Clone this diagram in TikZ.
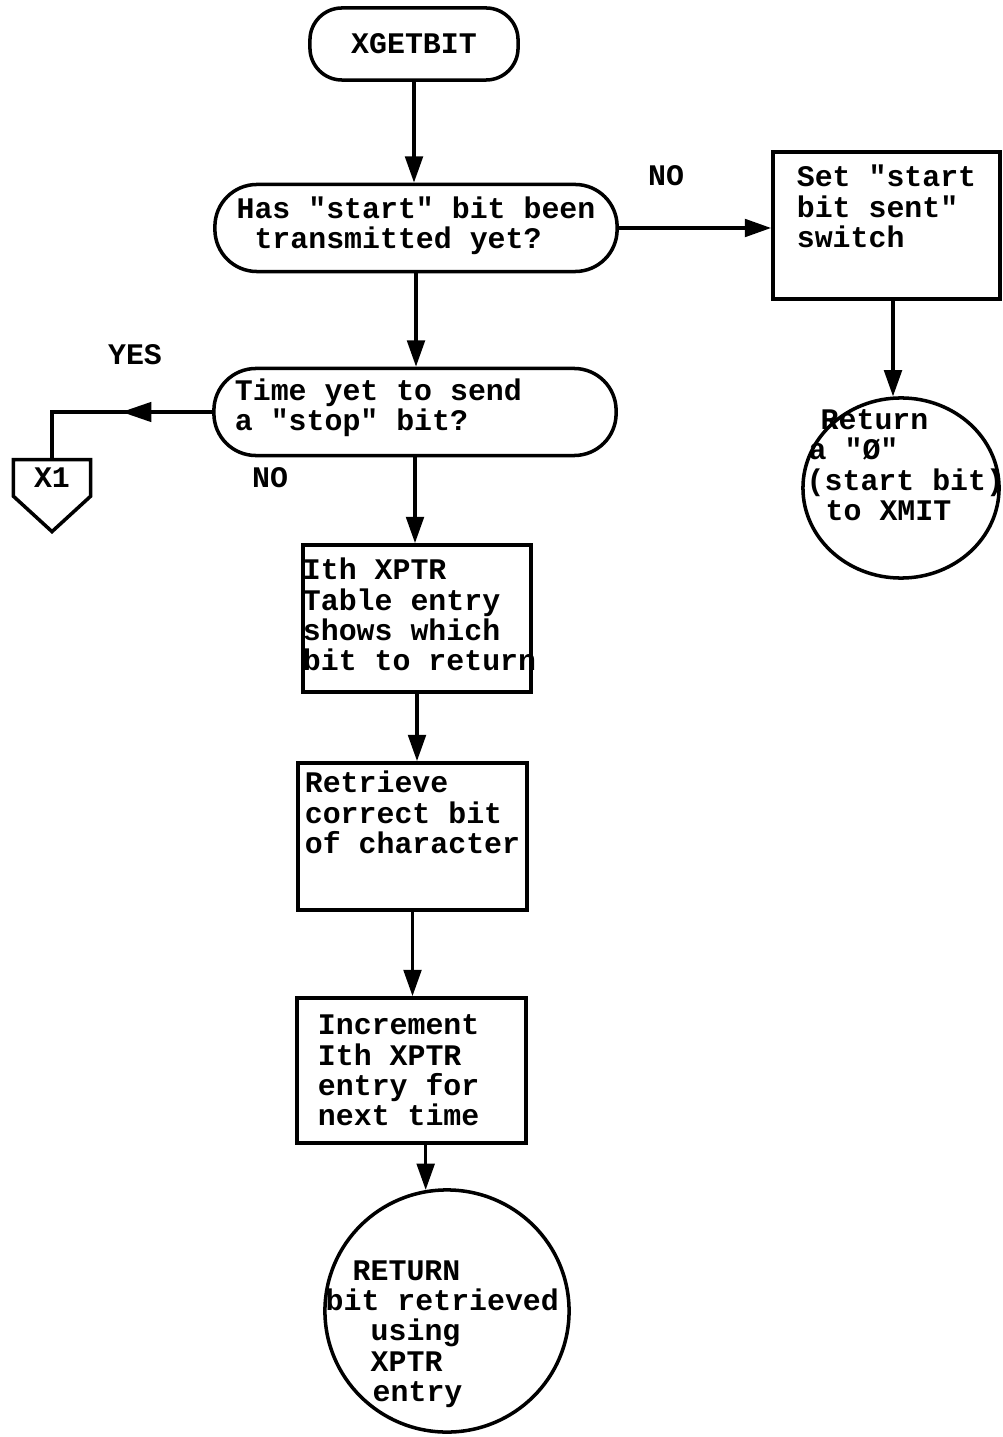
\documentclass[tikz,border=0pt]{standalone}
\usepackage{fontspec}
\setmonofont{Liberation Mono}
\usetikzlibrary{arrows.meta,shapes.geometric,shapes.symbols,decorations.markings}

\begin{document}
\begin{tikzpicture}[
    x=0.01cm, y=-0.01cm,
    every node/.style={font=\fontsize{8.5}{8.6}\selectfont\ttfamily\bfseries, inner sep=0pt},
    line/.style   ={line width=1pt},
    flow/.style   ={line, -{Triangle[length=7.5pt,width=5pt]}},
    term/.style   ={draw, line width=1pt, rounded corners=0.32cm, minimum width=2.08cm, minimum height=0.72cm},
    test/.style   ={draw, line width=1pt, rounded corners=0.42cm, minimum width=4.02cm, minimum height=0.87cm, align=left},
    proc/.style   ={draw, line width=1pt, minimum width=2.28cm, minimum height=1.46cm, align=left},
    exitc/.style  ={draw, line width=1pt, ellipse},
    offpage/.style={draw, line width=1pt, signal, signal to=south, signal from=nowhere, signal pointer angle=95, minimum width=0.77cm, minimum height=0.53cm},
    midarrow/.style={postaction={decorate}, decoration={markings, mark=at position 0.44 with {\arrow{Triangle[length=8.5pt,width=5.5pt]}}}},
  ]
  \useasboundingbox (0,0) rectangle (1002,1437);

  % entry and first test
  \node[term] (getbit) at (414,44) {XGETBIT};
  \node[test] (hasstart) at (416,228) {Has "start" bit been\\\hspace*{0.6em}transmitted yet?\\[-0.2cm]\mbox{}};
  \node (nostart) at (666,176) {NO};

  % start bit branch (right)
  \node[proc, minimum width=2.27cm, minimum height=1.47cm] (setsw) at (886.5,225.5) {Set "start\\bit sent"\\switch\\[0.08cm]\mbox{}};
  \node[exitc, minimum width=1.96cm, minimum height=1.80cm] (retzero) at (901,488) {};
  \node[anchor=north west, align=left] (retzero-txt) at (804,409)
    {\hspace*{0.16cm}Return\\\hspace*{0.04cm}a "Ø"\\\hspace*{0.02cm}(start bit)\\\hspace*{0.21cm}to XMIT};

  % stop bit test
  \node[test] (timestop) at (415,412) {\makebox[3.6cm][l]{Time yet to send}\\a "stop" bit?\\[-0.16cm]\mbox{}};
  \node (yesstop) at (135,355) {YES};
  \node (nostop) at (270,478) {NO};
  \node[offpage] (xone) at (52,478) {X1};

  % main column
  \node[proc, minimum width=2.28cm, minimum height=1.47cm] (ithentry) at (417,618.5)
    {Ith XPTR\\Table entry\\shows which\\\makebox[2.28cm][l]{bit to return}\\[-0.22cm]\mbox{}};
  \node[proc, minimum width=2.29cm, minimum height=1.47cm] (retrieve) at (412.5,836.5)
    {Retrieve\\correct bit\\of character\\[0.18cm]\mbox{}};
  \node[proc, minimum width=2.29cm, minimum height=1.45cm] (incr) at (411.5,1070.5)
    {\makebox[1.87cm][l]{Increment}\\Ith XPTR\\entry for\\next time};
  \node[exitc, minimum width=2.44cm, minimum height=2.42cm] (retbit) at (447,1311) {};
  \node[anchor=north west, align=left] (retbit-txt) at (325,1260)
    {\hspace*{0.27cm}RETURN\\bit retrieved\\\hspace*{0.45cm}using\\\hspace*{0.45cm}XPTR\\\hspace*{0.47cm}entry};

  % connectors
  \draw[flow] (getbit.south) -- (getbit.south |- hasstart.north);
  \draw[flow] (hasstart.east) -- (hasstart.east -| setsw.west);
  \draw[flow] (setsw.south -| retzero.95) -- (retzero.95);
  \draw[flow] (hasstart.south) -- (hasstart.south |- timestop.north);
  \draw[line, midarrow] (timestop.west) -| (xone.north);
  \draw[flow] (timestop.south) -- (timestop.south |- ithentry.north);
  \draw[flow] (ithentry.south) -- (ithentry.south |- retrieve.north);
  \draw[flow] (retrieve.south) -- (retrieve.south |- incr.north);
  \draw[flow] (incr.south -| retbit.100) -- (retbit.100);
\end{tikzpicture}
\end{document}
